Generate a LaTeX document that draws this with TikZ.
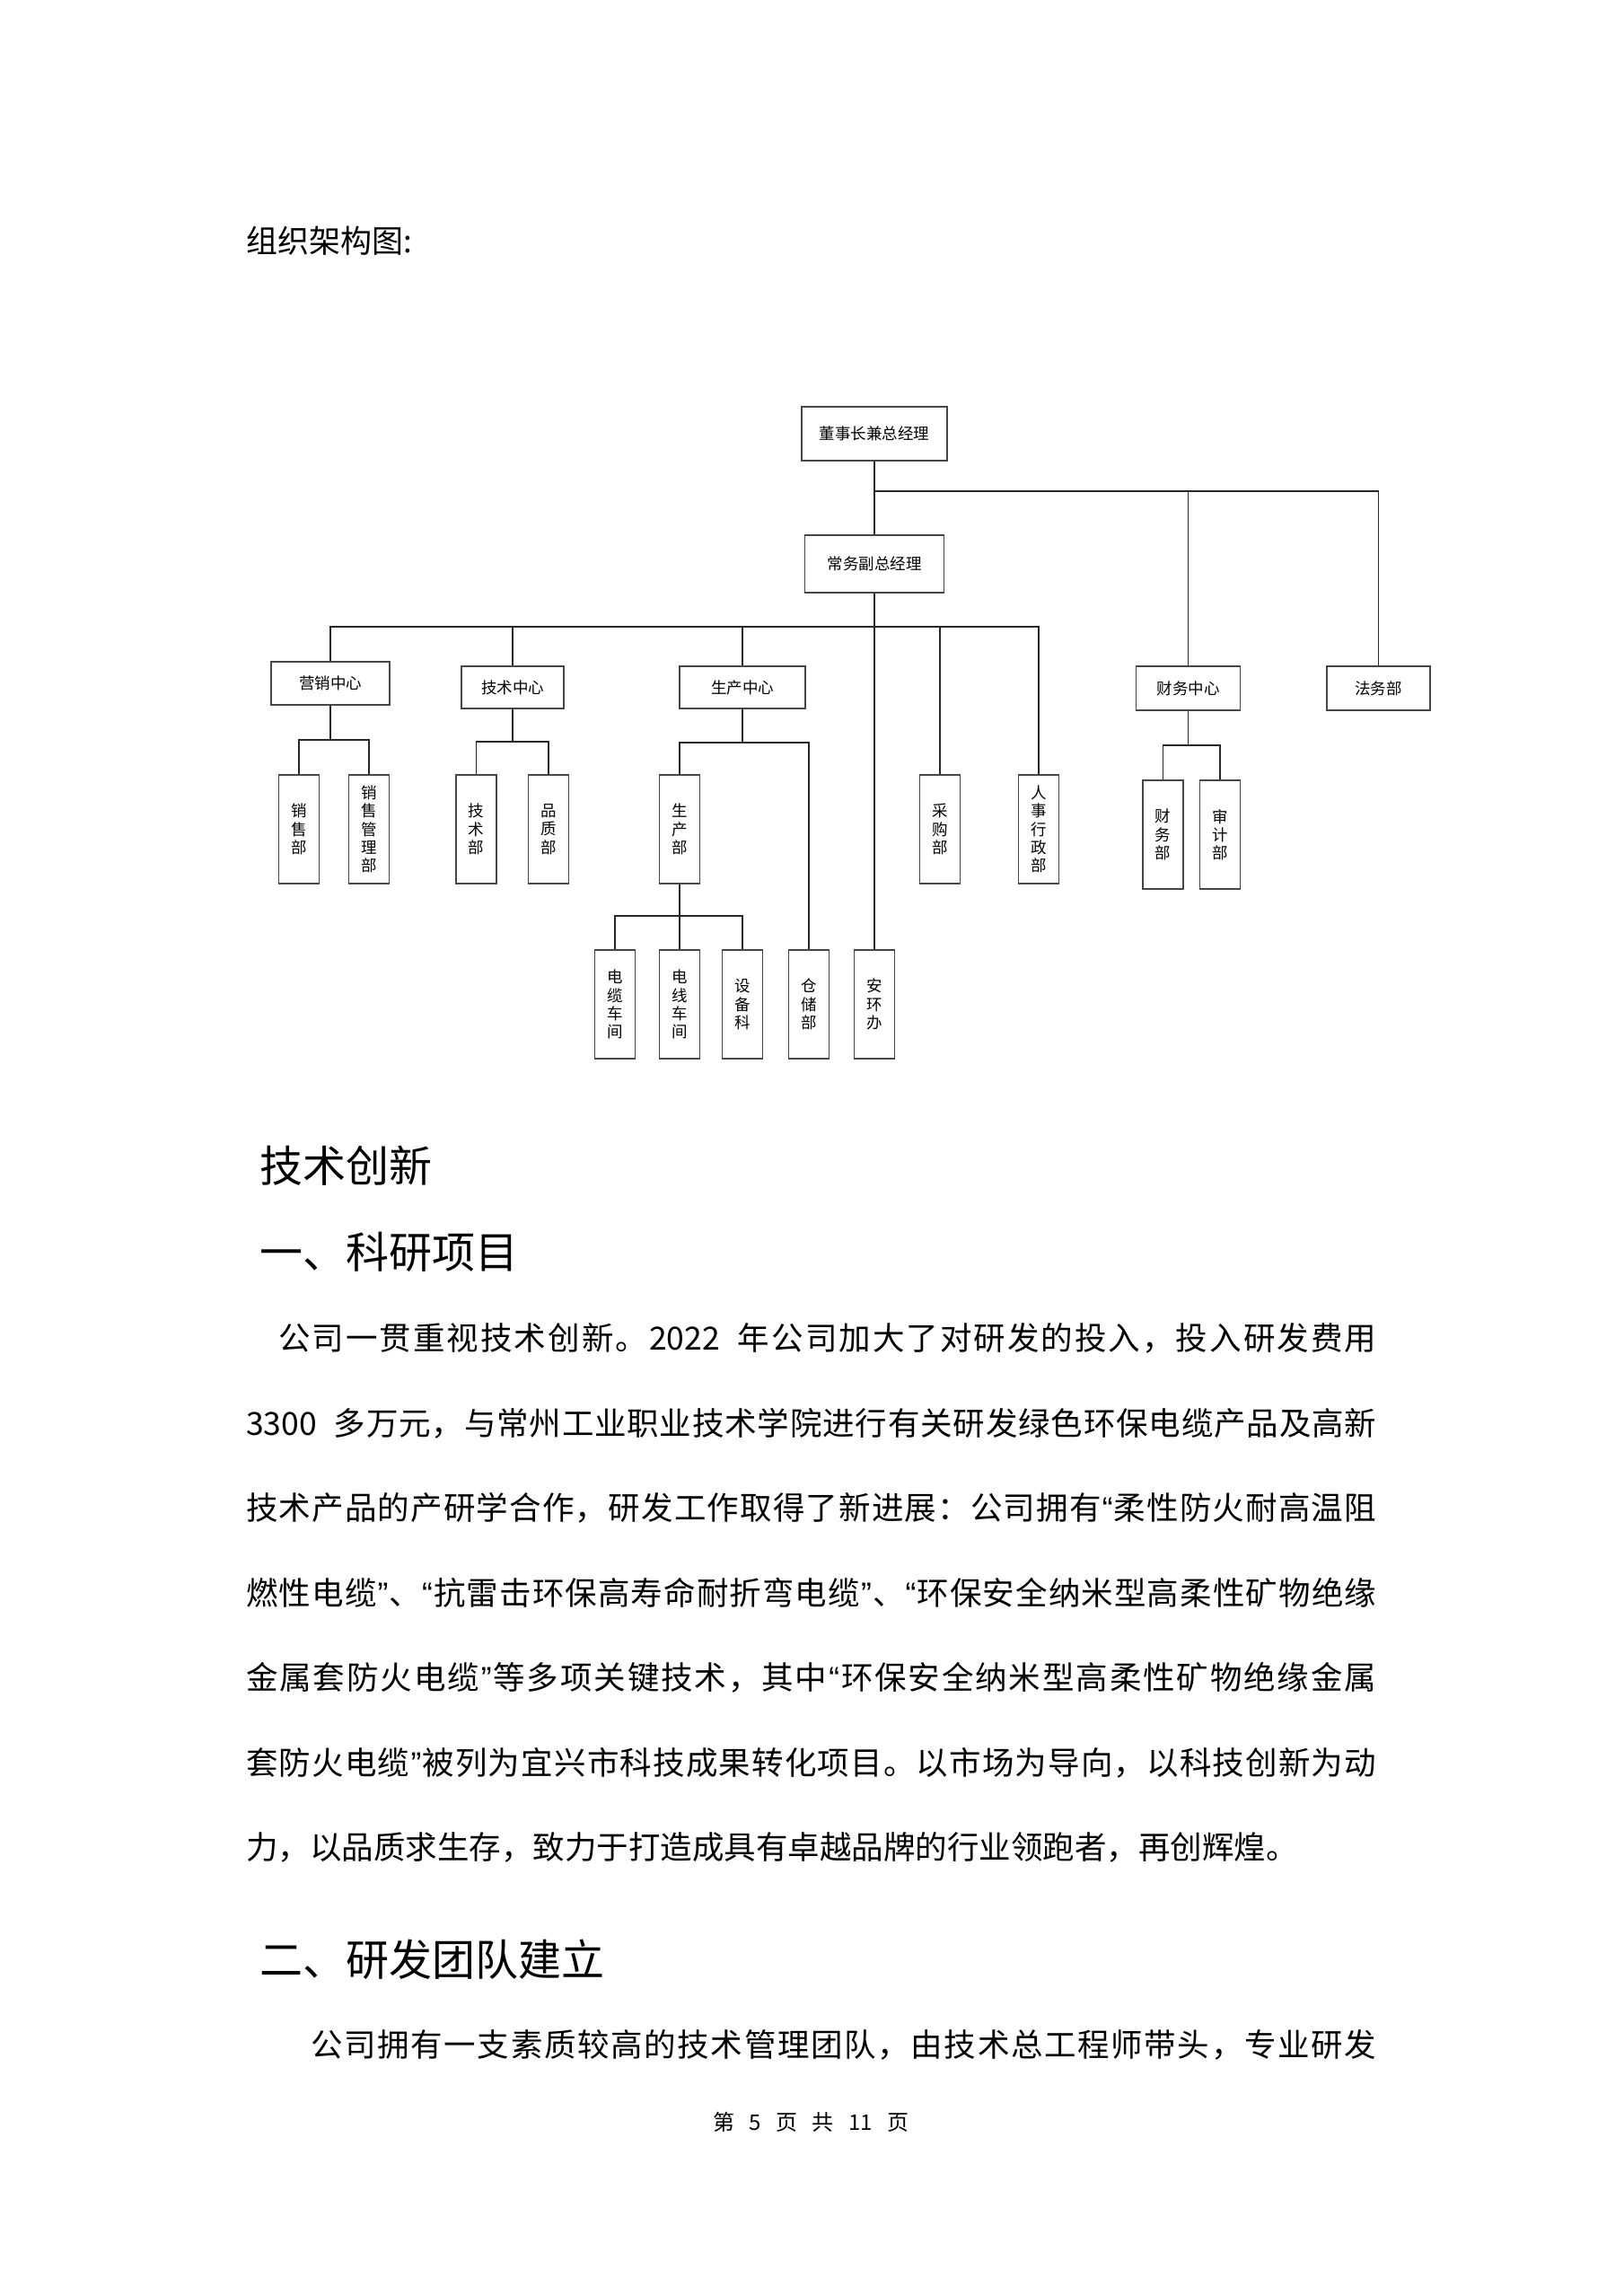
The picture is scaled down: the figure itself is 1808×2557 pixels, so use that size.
\documentclass[tikz,border=0pt]{standalone}
\usepackage{fontspec}
\setmainfont{Noto Sans CJK SC}
\newfontfamily\latinq{Liberation Sans}
\newcommand\myoq{{\latinq “}}
\newcommand\mycq{{\latinq ”}}
\def\sprend{\sprend}
\newcommand\jline[1]{\sprA#1\sprend}
\def\sprA#1{#1\sprB}
\def\sprB#1{\ifx\sprend#1\else\hskip0pt plus 1fil#1\expandafter\sprB\fi}
\definecolor{lncol}{RGB}{40,40,40}
\definecolor{bxcol}{RGB}{70,70,70}
\begin{document}
\begin{tikzpicture}[x=1pt,y=-1pt,
  hb/.style={draw=bxcol, line width=1.4pt, inner sep=0pt, fill=white, font=\fontsize{17.5}{21}\selectfont},
  vb/.style={hb, minimum width=45pt, minimum height=121pt, align=center, font=\fontsize{17.5}{20.2}\selectfont},
  ln/.style={draw=lncol, line width=1.8pt},
  txt/.style={anchor=base west, inner sep=0pt, font=\fontsize{35.5}{36}\selectfont},
  head/.style={anchor=base west, inner sep=0pt, font=\fontsize{48}{48}\selectfont}]
\fill[white] (0,0) rectangle (1808,2557);
\useasboundingbox (0,0) rectangle (1808,2557);

% title
\node[anchor=base west, inner sep=0pt, font=\fontsize{35}{35}\selectfont] (t0) at (274,281) {组织架构图:};

% chart boxes
\node[hb, minimum width=162pt, minimum height=60pt] (top) at (974,483) {董事长兼总经理};
\node[hb, minimum width=155pt, minimum height=64pt] (vp) at (974,628) {常务副总经理};
\node[hb, minimum width=132pt, minimum height=48pt] (mkt) at (368,761) {营销中心};
\node[hb, minimum width=114pt, minimum height=47pt] (tec) at (571,765.5) {技术中心};
\node[hb, minimum width=140pt, minimum height=47pt] (prd) at (827,765.5) {生产中心};
\node[hb, minimum width=116pt, minimum height=49pt] (fin) at (1323.5,766.5) {财务中心};
\node[hb, minimum width=115pt, minimum height=49pt] (law) at (1535.5,766.5) {法务部};

\node[vb] (xs) at (333,923.5) {销\\售\\部};
\node[vb] (xsgl) at (411,923.5) {销\\售\\管\\理\\部};
\node[vb] (js) at (530.5,923.5) {技\\术\\部};
\node[vb] (pz) at (611,923.5) {品\\质\\部};
\node[vb] (sc) at (757,923.5) {生\\产\\部};
\node[vb] (cg) at (1047,923.5) {采\\购\\部};
\node[vb] (rs) at (1157,923.5) {人\\事\\行\\政\\部};
\node[vb] (cw) at (1295.5,929.5) {财\\务\\部};
\node[vb] (sj) at (1359,929.5) {审\\计\\部};
\node[vb] (dl) at (685,1118.5) {电\\缆\\车\\间};
\node[vb] (dx) at (757,1118.5) {电\\线\\车\\间};
\node[vb] (sb) at (827,1118.5) {设\\备\\科};
\node[vb] (cc) at (901,1118.5) {仓\\储\\部};
\node[vb] (ah) at (974,1118.5) {安\\环\\办};

% connector rows
\coordinate (r1) at (0,547);
\coordinate (r2) at (0,698);
\coordinate (r3) at (0,824);
\coordinate (r3b) at (0,826);
\coordinate (r4) at (0,827);
\coordinate (r5) at (0,830);
\coordinate (r6) at (0,1020);

\draw[ln] (top.south) -- (vp.north);
\draw[ln] (law.north) |- (top.south |- r1);
\draw[ln] (fin.north) -- (fin.north |- r1);
\draw[ln] (vp.south) -- (ah.north);
\draw[ln] (mkt.north) |- (rs.north |- r2) -- (rs.north);
\draw[ln] (tec.north) -- (tec.north |- r2);
\draw[ln] (prd.north) -- (prd.north |- r2);
\draw[ln] (cg.north) -- (cg.north |- r2);
\draw[ln] (mkt.south) -- (mkt.south |- r3);
\draw[ln] (xs.north) |- (xsgl.north |- r3) -- (xsgl.north);
\draw[ln] (tec.south) -- (tec.south |- r3b);
\draw[ln] (js.north) |- (pz.north |- r3b) -- (pz.north);
\draw[ln] (prd.south) -- (prd.south |- r4);
\draw[ln] (sc.north) |- (cc.north |- r4) -- (cc.north);
\draw[ln] (sc.south) -- (sc.south |- r6);
\draw[ln] (dl.north) |- (sb.north |- r6) -- (sb.north);
\draw[ln] (dx.north) -- (dx.north |- r6);
\draw[ln] (fin.south) -- (fin.south |- r5);
\draw[ln] (cw.north) |- (sj.north |- r5) -- (sj.north);

% headings
\node[head] (h1) at (289,1316.5) {技术创新};
\node[head] (h2) at (289,1412) {一、科研项目};
\node[head] (h3) at (289,2200) {二、研发团队建立};

% body
\node[txt] (l1) at (274,1503.5) {\hbox to 1259pt{\hspace*{36pt}\jline{公司一贯重视技术创新。{2022\hspace{18pt}}年公司加大了对研发的投入，投入研发费用}}};
\node[txt] (l2) at (274,1598) {\hbox to 1259pt{\jline{{3300\hspace{18pt}}多万元，与常州工业职业技术学院进行有关研发绿色环保电缆产品及高新}}};
\node[txt] (l3) at (274,1692.5) {\hbox to 1259pt{\jline{技术产品的产研学合作，研发工作取得了新进展：公司拥有\myoq 柔性防火耐高温阻}}};
\node[txt] (l4) at (274,1787) {\hbox to 1259pt{\jline{燃性电缆\mycq 、\myoq 抗雷击环保高寿命耐折弯电缆\mycq 、\myoq 环保安全纳米型高柔性矿物绝缘}}};
\node[txt] (l5) at (274,1881.5) {\hbox to 1259pt{\jline{金属套防火电缆\mycq 等多项关键技术，其中\myoq 环保安全纳米型高柔性矿物绝缘金属}}};
\node[txt] (l6) at (274,1976) {\hbox to 1259pt{\jline{套防火电缆\mycq 被列为宜兴市科技成果转化项目。以市场为导向，以科技创新为动}}};
\node[txt] (l7) at (274,2070.5) {力，以品质求生存，致力于打造成具有卓越品牌的行业领跑者，再创辉煌。};
\node[txt] (l8) at (274,2290.5) {\hbox to 1259pt{\hspace*{72pt}\jline{公司拥有一支素质较高的技术管理团队，由技术总工程师带头，专业研发}}};

% footer
\node[anchor=base west, inner sep=0pt, font=\fontsize{24}{24}\selectfont] (ft) at (794,2372.5) {\hbox to 218pt{第\hfil 5\hfil 页\hfil 共\hfil 11\hfil 页}};
\end{tikzpicture}
\end{document}
